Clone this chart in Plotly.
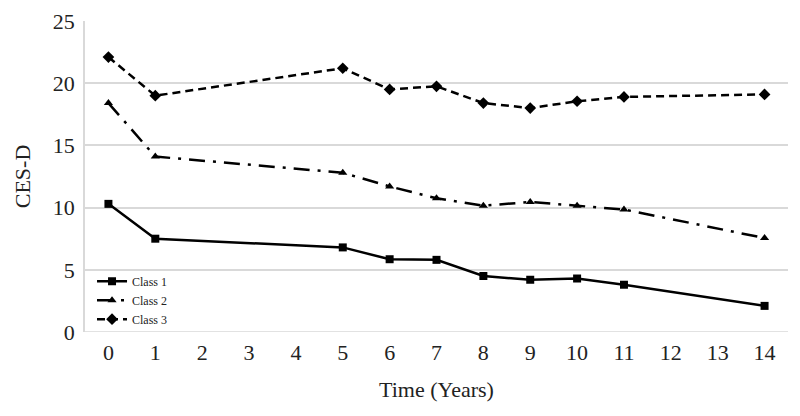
import plotly.graph_objects as go

years = [0, 1, 5, 6, 7, 8, 9, 10, 11, 14]
class1 = [10.3, 7.5, 6.8, 5.85, 5.8, 4.5, 4.2, 4.3, 3.8, 2.1]
class2 = [18.4, 14.1, 12.8, 11.7, 10.75, 10.15, 10.45, 10.15, 9.85, 7.55]
class3 = [22.1, 19.0, 21.2, 19.5, 19.75, 18.4, 18.0, 18.55, 18.9, 19.1]
tick_labels = [str(i) for i in range(15)]

font = "Liberation Serif, Times New Roman, serif"

fig = go.Figure()
fig.add_trace(go.Scatter(x=years, y=class1, name="Class 1", mode="lines+markers",
                         line=dict(color="black", width=2.5),
                         marker=dict(symbol="square", size=8, color="black")))
fig.add_trace(go.Scatter(x=years, y=class2, name="Class 2", mode="lines+markers",
                         line=dict(color="black", width=2.5, dash="16px,8px,3px,8px"),
                         marker=dict(symbol="triangle-up", size=8, color="black")))
fig.add_trace(go.Scatter(x=years, y=class3, name="Class 3", mode="lines+markers",
                         line=dict(color="black", width=2.5, dash="8px,5px"),
                         marker=dict(symbol="diamond", size=9, color="black")))

fig.update_layout(
    width=800, height=416,
    margin=dict(l=77, r=20, t=13, b=92),
    paper_bgcolor="white", plot_bgcolor="white",
    font=dict(family=font, color="#222", size=22),
    showlegend=True,
    legend=dict(x=0.01, y=0.21, xanchor="left", yanchor="top",
                font=dict(family=font, size=12, color="#222"),
                bgcolor="rgba(0,0,0,0)", tracegroupgap=0, itemwidth=30),
    xaxis=dict(range=[-0.5, 14.5], tickmode="array", tickvals=list(range(15)),
               ticktext=tick_labels, showgrid=False, zeroline=False,
               showline=False, ticks="", tickfont=dict(size=22), automargin=False,
               ticklabelstandoff=5,
               title=dict(text="Time (Years)", font=dict(size=22), standoff=17)),
    yaxis=dict(range=[0, 25], dtick=5, showgrid=True, gridcolor="#d9d9d9", gridwidth=1.5,
               zeroline=False, showline=True, linecolor="#d9d9d9", linewidth=1.5,
               ticks="", tickfont=dict(size=22), automargin=False, ticklabelstandoff=4,
               title=dict(text="CES-D", font=dict(size=22), standoff=16)),
)
fig.add_shape(type="line", xref="paper", yref="y", x0=0, x1=1, y0=0, y1=0,
              line=dict(color="#d9d9d9", width=1.5))

fig.write_html("out.html")
